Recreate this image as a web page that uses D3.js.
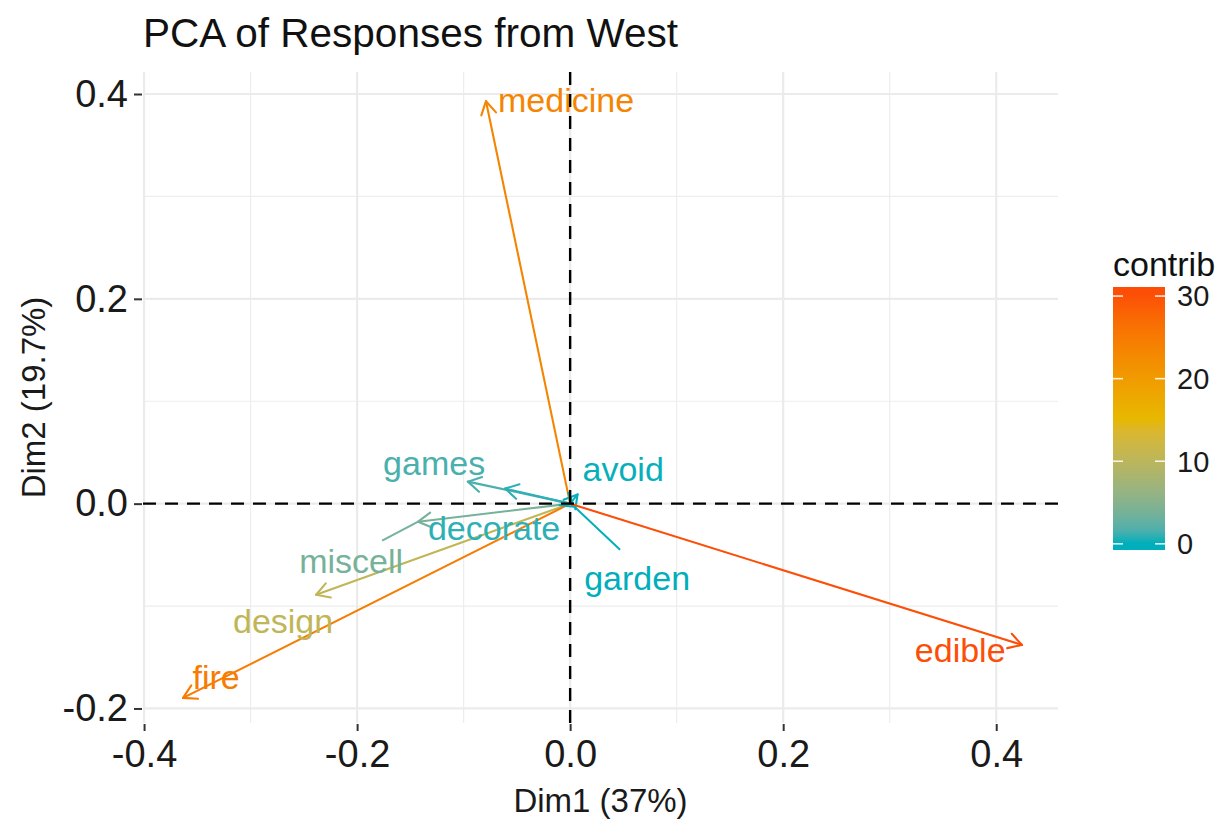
<!DOCTYPE html>
<html>
<head>
<meta charset="utf-8">
<script src="https://cdn.jsdelivr.net/npm/d3@7"></script>
<style>
  html, body { margin: 0; padding: 0; background: #ffffff; }
  svg { display: block; font-family: "Liberation Sans", Arial, Helvetica, sans-serif; }
</style>
</head>
<body>
<svg id="chart" width="1216" height="819"></svg>
<script>
// Variables of the PCA (correlation circle, dims 1 & 2)
const variables = ["medicine", "games", "avoid", "decorate", "miscell", "design", "fire", "garden", "edible"];
const dim1 = [-0.079, -0.096, 0.007, -0.061, -0.1427, -0.2385, -0.3634, 0.004, 0.4241];
const dim2 = [0.393, 0.0215, 0.009, 0.0147, -0.0176, -0.089, -0.1897, -0.003, -0.1379];
const contrib = [23.6, 1.5, 0.1, 0.6, 3.8, 10.5, 24.8, 0.05, 30.3];

// Repelled label positions (data units) and leader-segment starts (null = no segment)
const labelDim1 = [-0.0038, -0.1277, 0.0498, -0.0714, -0.2056, -0.2695, -0.3324, 0.0629, 0.3662];
const labelDim2 = [0.394, 0.0401, 0.0342, -0.0235, -0.0557, -0.1144, -0.1692, -0.0724, -0.1428];
const segDim1 = [null, null, null, null, -0.1765, null, null, 0.0469, null];
const segDim2 = [null, null, null, null, -0.0362, null, null, -0.045, null];

// Axis ticks and titles
const xTicks = [-0.4, -0.2, 0.0, 0.2, 0.4];
const yTicks = [-0.2, 0.0, 0.2, 0.4];
const xMinor = [-0.3, -0.1, 0.1, 0.3];
const yMinor = [-0.1, 0.1, 0.3];
const legendTicks = [0, 10, 20, 30];
const gradientCols = ["#00AFBB", "#E7B800", "#FC4E07"];
const titleText = "PCA of Responses from West";
const xTitle = "Dim1 (37%)";
const yTitle = "Dim2 (19.7%)";
const legendTitle = "contrib";

const svg = d3.select("#chart");
const panel = { left: 143, right: 1058, top: 72, bottom: 723 };

const x = d3.scaleLinear().domain([-0.401, 0.458]).range([panel.left, panel.right]);
const y = d3.scaleLinear().domain([-0.2142, 0.4215]).range([panel.bottom, panel.top]);

const cMin = d3.min(contrib), cMax = d3.max(contrib);
const color = d3.scaleLinear()
  .domain([cMin, (cMin + cMax) / 2, cMax])
  .range(gradientCols)
  .interpolate(d3.interpolateLab);

// Tick labels with a plain hyphen-minus
const fmt = d => d3.format(".1f")(d).replace("\u2212", "-");

// Grid
const grid = svg.append("g");
grid.selectAll(".xminor").data(xMinor).join("line")
  .attr("x1", d => x(d)).attr("x2", d => x(d))
  .attr("y1", panel.top).attr("y2", panel.bottom)
  .attr("stroke", "#ededed").attr("stroke-width", 1.2);
grid.selectAll(".yminor").data(yMinor).join("line")
  .attr("y1", d => y(d)).attr("y2", d => y(d))
  .attr("x1", panel.left).attr("x2", panel.right)
  .attr("stroke", "#ededed").attr("stroke-width", 1.2);
grid.selectAll(".xmajor").data(xTicks).join("line")
  .attr("x1", d => x(d)).attr("x2", d => x(d))
  .attr("y1", panel.top).attr("y2", panel.bottom)
  .attr("stroke", "#ebebeb").attr("stroke-width", 2.2);
grid.selectAll(".ymajor").data(yTicks).join("line")
  .attr("y1", d => y(d)).attr("y2", d => y(d))
  .attr("x1", panel.left).attr("x2", panel.right)
  .attr("stroke", "#ebebeb").attr("stroke-width", 2.2);

// Axes
const xAxis = d3.axisBottom(x).tickValues(xTicks).tickFormat(fmt).tickSize(7).tickPadding(9);
const yAxis = d3.axisLeft(y).tickValues(yTicks).tickFormat(fmt).tickSize(8).tickPadding(6);

const gx = svg.append("g").attr("transform", `translate(0,${panel.bottom + 1})`).call(xAxis);
const gy = svg.append("g").attr("transform", `translate(${panel.left - 1},0)`).call(yAxis);
[gx, gy].forEach(g => {
  g.select(".domain").remove();
  g.selectAll(".tick line").attr("stroke", "#333333").attr("stroke-width", 2);
  g.selectAll(".tick text").attr("fill", "#1a1a1a").style("font-size", "38px")
    .style("font-family", "'Liberation Sans', Arial, sans-serif");
});

// Arrows (variables)
const idx = d3.range(variables.length);
const arrowLen = 15, arrowAngle = Math.PI / 6;
const arrows = svg.append("g");
idx.forEach(i => {
  const x0 = x(0), y0 = y(0), x1 = x(dim1[i]), y1 = y(dim2[i]);
  const c = color(contrib[i]);
  arrows.append("line")
    .attr("x1", x0).attr("y1", y0).attr("x2", x1).attr("y2", y1)
    .attr("stroke", c).attr("stroke-width", 2.1).attr("stroke-linecap", "round");
  const ang = Math.atan2(y0 - y1, x0 - x1);
  const p1 = [x1 + arrowLen * Math.cos(ang + arrowAngle), y1 + arrowLen * Math.sin(ang + arrowAngle)];
  const p2 = [x1 + arrowLen * Math.cos(ang - arrowAngle), y1 + arrowLen * Math.sin(ang - arrowAngle)];
  arrows.append("polyline")
    .attr("points", [p1, [x1, y1], p2].map(p => p.join(",")).join(" "))
    .attr("fill", "none").attr("stroke", c).attr("stroke-width", 2.1)
    .attr("stroke-linecap", "round").attr("stroke-linejoin", "round");
});

// Leader segments from repelled labels
idx.filter(i => segDim1[i] !== null).forEach(i => {
  arrows.append("line")
    .attr("x1", x(segDim1[i])).attr("y1", y(segDim2[i]))
    .attr("x2", x(dim1[i])).attr("y2", y(dim2[i]))
    .attr("stroke", color(contrib[i])).attr("stroke-width", 2);
});

// Labels
svg.append("g").selectAll("text").data(idx).join("text")
  .attr("x", i => x(labelDim1[i]))
  .attr("y", i => y(labelDim2[i]))
  .attr("dy", "0.36em")
  .attr("text-anchor", "middle")
  .attr("fill", i => color(contrib[i]))
  .style("font-size", "34px")
  .text(i => variables[i]);

// Reference lines at zero
const ref = svg.append("g");
ref.append("line")
  .attr("x1", panel.left).attr("x2", panel.right).attr("y1", y(0)).attr("y2", y(0))
  .attr("stroke", "#000").attr("stroke-width", 2.4).attr("stroke-dasharray", "13,9");
ref.append("line")
  .attr("y1", panel.top).attr("y2", panel.bottom).attr("x1", x(0)).attr("x2", x(0))
  .attr("stroke", "#000").attr("stroke-width", 2.4).attr("stroke-dasharray", "13,9");

// Titles
svg.append("text").attr("x", panel.left).attr("y", 47)
  .attr("fill", "#111").style("font-size", "40.5px").text(titleText);
svg.append("text").attr("x", (panel.left + panel.right) / 2).attr("y", 812)
  .attr("text-anchor", "middle").attr("fill", "#1a1a1a").style("font-size", "33px").text(xTitle);
svg.append("text")
  .attr("transform", `translate(45,${(panel.top + panel.bottom) / 2}) rotate(-90)`)
  .attr("text-anchor", "middle").attr("fill", "#1a1a1a").style("font-size", "33px").text(yTitle);

// Colour bar legend
const bar = { x: 1113, y: 287, w: 52, h: 263 };
const half = bar.h / 40;
const ly = d3.scaleLinear().domain([cMin, cMax]).range([bar.y + bar.h - half, bar.y + half]);

const defs = svg.append("defs");
const grad = defs.append("linearGradient").attr("id", "contribGrad")
  .attr("gradientUnits", "userSpaceOnUse")
  .attr("x1", 0).attr("x2", 0)
  .attr("y1", ly(cMin)).attr("y2", ly(cMax));
d3.range(0, 21).forEach(k => {
  const v = cMin + (cMax - cMin) * k / 20;
  grad.append("stop").attr("offset", `${k * 5}%`).attr("stop-color", color(v));
});
svg.append("rect").attr("x", bar.x).attr("y", bar.y).attr("width", bar.w).attr("height", bar.h)
  .attr("fill", "url(#contribGrad)");
const lt = svg.append("g");
legendTicks.forEach(t => {
  lt.append("line").attr("x1", bar.x).attr("x2", bar.x + 10).attr("y1", ly(t)).attr("y2", ly(t))
    .attr("stroke", "#fff").attr("stroke-width", 1.6).attr("opacity", 0.85);
  lt.append("line").attr("x1", bar.x + bar.w - 10).attr("x2", bar.x + bar.w).attr("y1", ly(t)).attr("y2", ly(t))
    .attr("stroke", "#fff").attr("stroke-width", 1.6).attr("opacity", 0.85);
  lt.append("text").attr("x", bar.x + bar.w + 12).attr("y", ly(t)).attr("dy", "0.36em")
    .attr("fill", "#1a1a1a").style("font-size", "29px").text(t);
});
svg.append("text").attr("x", bar.x).attr("y", 276)
  .attr("fill", "#111").style("font-size", "34px").text(legendTitle);
</script>
</body>
</html>
